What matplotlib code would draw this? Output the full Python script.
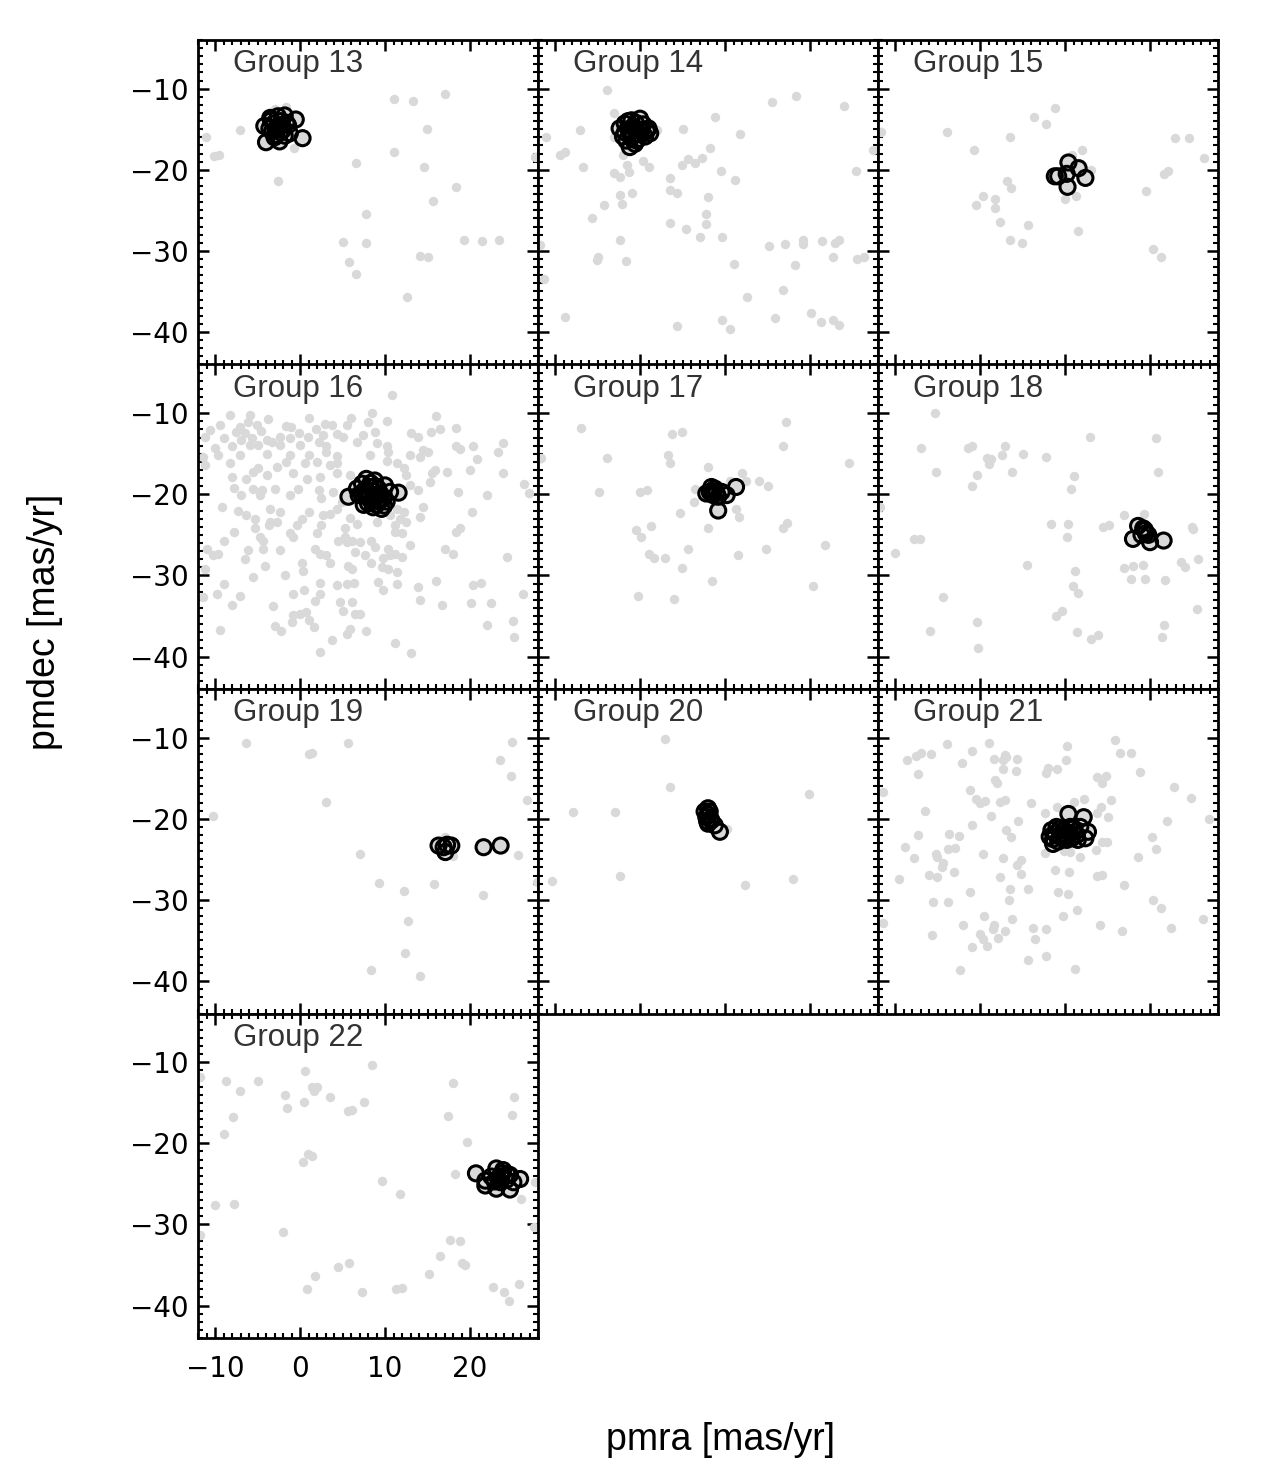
import numpy as np
import matplotlib.pyplot as plt
from matplotlib.ticker import MultipleLocator

# proper motions (pmra, pmdec) in mas/yr
group_names = ['Group 13', 'Group 14', 'Group 15', 'Group 16', 'Group 17',
               'Group 18', 'Group 19', 'Group 20', 'Group 21', 'Group 22']

g13_field = [(-11.1, -16.0), (-7.1, -15.1), (-10.1, -18.3), (-9.5, -18.2), (-3.0, -12.5),
             (-1.6, -12.3), (-0.7, -17.3), (-2.6, -21.4), (11.1, -11.3), (13.3, -11.5),
             (17.0, -10.6), (14.9, -15.0), (11.1, -17.8), (6.6, -19.2), (14.6, -19.6),
             (18.3, -22.1), (15.7, -23.8), (7.8, -25.4), (5.0, -28.9), (7.8, -29.0),
             (19.3, -28.6), (21.4, -28.8), (23.4, -28.6), (5.8, -31.4), (6.6, -32.9),
             (14.1, -30.6), (15.1, -30.7), (12.6, -35.7), (27.6, -18.4)]
g13_members = [(-4.2, -14.6), (-3.5, -13.6), (-2.6, -13.4), (-1.8, -13.3), (-0.5, -13.8),
               (0.3, -16.1), (-4.0, -16.6), (-2.4, -16.5), (-1.2, -15.5), (-2.9, -15.1),
               (-2.4, -14.5), (-3.1, -14.3), (-2.0, -15.1), (-2.8, -15.7), (-1.4, -14.5),
               (-3.3, -15.3), (-2.2, -14.0), (-2.7, -14.8), (-1.8, -15.8), (-3.0, -16.0),
               (-3.6, -14.9), (-1.6, -14.2), (-2.3, -15.4), (-3.4, -13.9)]

g14_field = [(-11.1, -16.0), (-11.8, -29.3), (-11.3, -33.4), (-3.9, -10.2), (-7.1, -15.1),
             (-3.1, -13.0), (0.0, -13.1), (-3.1, -16.0), (-9.4, -18.2), (-8.8, -17.8),
             (-6.7, -19.7), (-2.0, -18.2), (-1.5, -19.4), (-1.3, -20.3), (-3.1, -20.4),
             (-2.4, -20.9), (0.4, -18.9), (1.0, -19.6), (2.0, -15.1), (5.0, -15.0),
             (8.8, -13.5), (11.8, -15.6), (8.2, -17.3), (4.9, -19.4), (5.7, -18.7),
             (6.5, -19.2), (7.3, -18.6), (3.5, -21.0), (3.5, -22.5), (4.3, -22.9),
             (9.5, -20.2), (11.2, -21.2), (8.0, -23.3), (7.8, -25.4), (7.8, -26.7),
             (7.1, -28.3), (9.7, -28.3), (5.4, -27.3), (3.5, -26.6), (-2.4, -23.1),
             (-1.0, -22.9), (-2.1, -24.2), (-4.2, -24.3), (-5.7, -25.9), (-2.3, -28.7),
             (-5.0, -30.7), (-5.1, -31.1), (-1.6, -31.2), (-8.8, -38.2), (4.3, -39.3),
             (9.7, -38.5), (10.6, -39.6), (11.1, -31.6), (12.6, -35.7), (15.2, -29.4),
             (17.0, -29.2), (19.2, -28.6), (19.2, -29.1), (21.4, -28.8), (22.9, -29.0),
             (23.4, -28.6), (22.7, -30.8), (18.2, -31.7), (25.5, -31.0), (26.3, -30.8),
             (16.8, -34.8), (15.9, -38.3), (20.1, -37.7), (21.3, -38.7), (22.7, -38.5),
             (23.4, -39.1), (15.5, -11.7), (18.3, -10.9), (24.0, -12.1), (25.4, -20.2),
             (27.4, -17.6)]
g14_members = [(-1.8, -14.3), (0.0, -13.7), (1.0, -14.9), (-1.2, -17.2), (-2.4, -14.9),
               (-0.4, -16.4), (0.6, -15.9), (-1.2, -15.5), (-0.8, -14.7), (0.2, -15.1),
               (-1.6, -16.4), (-0.6, -16.8), (-2.0, -15.9), (1.2, -15.5), (-1.0, -13.9),
               (-0.5, -14.2), (-1.4, -15.0), (-0.2, -15.6), (0.4, -14.4), (-1.0, -16.0),
               (-1.8, -15.4), (0.8, -15.2), (-0.6, -15.0), (-0.2, -16.2), (-1.4, -14.0)]

g15_field = [(-11.6, -15.4), (-3.9, -15.4), (-0.7, -17.6), (3.5, -16.0), (6.3, -13.5),
             (7.8, -14.3), (8.8, -12.4), (12.0, -17.5), (10.8, -18.2), (13.1, -20.0),
             (3.2, -21.4), (3.7, -22.3), (0.3, -23.2), (-0.5, -24.4), (1.8, -23.6),
             (1.8, -24.7), (2.4, -26.4), (5.7, -26.8), (3.5, -28.6), (4.9, -29.0),
             (10.0, -23.6), (11.3, -23.2), (11.5, -27.5), (19.5, -22.6), (21.7, -20.5),
             (22.1, -20.1), (22.9, -16.1), (24.6, -16.1), (26.3, -18.6), (20.4, -29.8),
             (21.3, -30.8)]
g15_members = [(8.8, -20.8), (9.2, -20.8), (10.4, -19.1), (11.6, -19.8), (12.4, -21.0),
               (10.3, -22.1), (10.2, -20.5)]

g16_field = [(10.8, -7.7), (-8.2, -10.2), (-5.9, -10.2), (-3.8, -10.7), (1.0, -10.6),
             (6.0, -10.6), (8.5, -10.0), (10.2, -11.0), (16.0, -10.3), (18.3, -11.8),
             (-9.4, -11.5), (-10.6, -12.1), (-7.1, -11.7), (-6.1, -11.1), (-5.1, -11.5),
             (-7.5, -12.3), (-6.5, -12.4), (-4.6, -12.2), (-1.6, -11.6), (-1.1, -11.7),
             (-0.1, -12.4), (1.9, -11.9), (2.9, -11.3), (3.8, -11.5), (5.5, -11.4),
             (8.0, -11.1), (-11.2, -12.9), (-9.0, -13.1), (-6.9, -13.3), (-5.7, -13.1),
             (-3.9, -13.3), (-2.4, -12.9), (-1.2, -13.1), (0.9, -12.9), (2.7, -12.7),
             (4.3, -12.6), (5.1, -12.9), (7.4, -12.7), (8.8, -12.3), (13.0, -12.5),
             (13.9, -12.9), (15.4, -12.3), (16.5, -12.0), (-10.0, -14.3), (-8.0, -14.1),
             (-5.9, -13.9), (-4.9, -13.9), (-3.3, -13.6), (-2.4, -13.9), (0.0, -13.9),
             (2.2, -13.6), (3.1, -14.1), (6.7, -13.6), (9.0, -13.7), (10.2, -14.1),
             (14.5, -14.6), (15.1, -14.8), (18.4, -14.1), (18.8, -14.4), (20.4, -14.1),
             (23.9, -13.7), (23.3, -14.8), (-11.4, -15.4), (-9.6, -15.2), (-7.1, -15.2),
             (-3.9, -15.0), (-1.2, -15.2), (1.0, -15.1), (3.1, -14.8), (4.3, -15.3),
             (8.2, -15.2), (10.4, -14.8), (14.1, -15.4), (12.9, -15.2), (20.8, -15.6),
             (-11.2, -16.4), (-8.2, -16.2), (-5.5, -17.3), (-4.9, -16.8), (-2.7, -16.6),
             (-1.6, -16.0), (0.6, -16.2), (2.0, -16.0), (3.5, -16.4), (4.3, -16.2),
             (10.2, -15.9), (11.4, -16.2), (12.2, -16.8), (15.5, -17.4), (15.9, -17.0),
             (20.0, -17.0), (23.9, -17.4), (17.3, -17.2), (-8.0, -17.9), (-6.3, -18.1),
             (-3.9, -17.6), (-0.8, -17.4), (0.8, -18.1), (2.4, -17.9), (4.3, -17.4),
             (5.9, -17.6), (12.5, -17.6), (15.3, -18.5), (26.3, -18.7), (26.9, -19.9),
             (-7.8, -19.2), (-5.5, -19.3), (-4.5, -19.5), (-2.9, -19.3), (-0.2, -19.3),
             (2.2, -19.5), (3.9, -19.7), (12.9, -18.9), (13.9, -19.5), (18.6, -19.7),
             (22.0, -20.1), (-6.9, -20.1), (-4.7, -20.1), (-1.2, -20.1), (2.5, -20.5),
             (4.9, -20.9), (-9.2, -21.6), (-7.3, -22.0), (-3.5, -21.8), (-2.4, -22.2),
             (1.0, -22.2), (3.5, -22.4), (4.3, -21.8), (11.4, -21.8), (12.2, -22.2),
             (14.5, -21.6), (-6.3, -22.6), (-5.3, -23.0), (-3.5, -23.4), (-2.7, -23.4),
             (0.2, -23.0), (2.7, -22.6), (5.9, -22.9), (10.6, -22.6), (11.8, -23.0),
             (12.5, -23.4), (14.1, -22.8), (20.2, -22.2), (-5.3, -24.2), (-3.7, -23.8),
             (-0.4, -23.8), (2.5, -23.8), (5.3, -24.2), (6.7, -23.7), (9.0, -23.4),
             (11.2, -23.8), (18.8, -24.2), (-7.8, -24.6), (-4.7, -25.3), (-1.2, -24.8),
             (-0.8, -25.3), (2.0, -24.8), (5.3, -25.3), (5.5, -25.9), (7.1, -25.9),
             (11.2, -24.6), (12.0, -24.8), (18.4, -24.6), (-9.0, -25.7), (-4.3, -25.7),
             (4.5, -25.7), (6.1, -25.7), (8.4, -25.7), (8.8, -26.5), (10.4, -26.7),
             (12.9, -26.3), (17.1, -26.7), (-11.0, -26.7), (-6.1, -26.9), (-4.3, -26.7),
             (-2.4, -26.9), (1.8, -26.7), (2.4, -27.3), (3.1, -27.5), (6.5, -27.1),
             (7.6, -27.5), (10.6, -27.5), (11.2, -27.3), (12.0, -27.7), (18.0, -27.3),
             (24.3, -27.7), (-10.2, -27.5), (-9.6, -27.3), (-6.5, -28.0), (-4.1, -28.8),
             (0.2, -28.5), (0.4, -29.4), (3.5, -28.5), (5.7, -28.8), (6.1, -29.2),
             (8.4, -28.5), (9.8, -27.9), (9.6, -29.0), (10.4, -29.2), (11.4, -29.6),
             (-11.2, -29.2), (-5.5, -30.2), (-1.8, -30.0), (2.4, -30.9), (4.3, -31.2),
             (5.5, -31.0), (6.3, -30.9), (9.2, -30.8), (9.8, -31.8), (11.4, -31.1),
             (13.9, -31.4), (16.0, -30.7), (20.4, -31.2), (21.3, -30.9), (-9.0, -31.0),
             (-9.8, -32.3), (-11.4, -32.7), (-7.1, -32.5), (-0.8, -32.3), (0.5, -31.8),
             (2.4, -32.3), (4.7, -33.3), (6.1, -33.3), (14.1, -33.0), (16.7, -33.7),
             (20.1, -33.4), (22.5, -33.4), (26.2, -32.3), (-8.0, -33.6), (-3.2, -33.8),
             (1.8, -33.1), (5.1, -34.4), (6.5, -34.7), (7.1, -34.8), (-0.8, -34.9),
             (0.0, -34.7), (0.7, -34.5), (-1.0, -35.8), (1.0, -35.5), (-3.0, -36.2),
             (-2.2, -36.9), (1.6, -36.4), (5.5, -37.2), (5.9, -36.6), (7.8, -36.9),
             (22.0, -36.1), (25.1, -35.6), (-9.4, -36.7), (3.8, -37.9), (11.2, -38.3),
             (13.1, -39.6), (2.4, -39.4), (25.2, -37.6)]
g16_members = [(5.7, -20.3), (11.6, -19.8), (6.7, -19.3), (10.0, -18.9), (7.8, -18.1),
               (8.8, -18.3), (7.5, -21.3), (9.6, -21.8), (8.4, -20.9), (9.0, -20.1),
               (10.2, -20.9), (6.9, -20.1), (8.2, -19.1), (9.2, -19.3), (7.8, -20.1),
               (10.6, -19.7), (8.6, -21.6), (7.3, -18.7), (9.8, -20.5), (8.0, -21.1),
               (7.6, -19.5), (8.8, -20.5), (8.3, -18.6), (8.6, -19.6), (9.4, -20.8),
               (8.1, -20.5), (7.2, -19.9), (9.0, -21.3), (8.8, -19.0), (9.9, -21.4),
               (7.9, -19.6), (9.5, -20.0)]

g17_field = [(-11.6, -15.5), (-7.0, -11.8), (-3.9, -15.5), (3.8, -12.6), (4.9, -12.3),
             (3.3, -15.1), (3.5, -16.1), (8.0, -16.6), (17.2, -11.1), (16.8, -14.0),
             (24.6, -16.1), (-4.8, -19.7), (0.0, -19.7), (0.8, -19.5), (6.5, -19.3),
             (6.3, -21.0), (4.7, -22.3), (10.6, -18.3), (12.0, -17.4), (12.5, -18.3),
             (14.0, -18.4), (15.0, -19.0), (11.3, -21.8), (11.6, -22.8), (8.0, -24.1),
             (16.8, -24.1), (17.3, -23.5), (-0.5, -24.4), (0.1, -25.3), (1.3, -23.9),
             (5.7, -26.8), (1.1, -27.3), (1.6, -27.9), (2.9, -27.9), (4.9, -29.1),
             (11.5, -27.5), (14.8, -26.7), (21.8, -26.2), (8.5, -30.7), (20.4, -31.3),
             (-0.2, -32.5), (4.0, -32.9)]
g17_members = [(8.2, -19.7), (8.8, -19.3), (9.2, -20.3), (10.2, -20.1), (11.3, -19.1),
               (9.2, -22.0), (7.8, -19.9), (8.6, -20.1), (8.4, -19.1), (9.6, -19.7),
               (8.5, -19.6), (9.0, -19.8)]

g18_field = [(-11.8, -21.6), (-5.3, -10.0), (-6.9, -14.3), (-5.2, -17.2), (-1.4, -14.3),
             (-1.0, -14.1), (-0.3, -17.6), (-1.0, -19.0), (0.8, -15.5), (1.3, -15.6),
             (1.1, -16.3), (2.6, -15.1), (2.9, -14.1), (5.0, -15.0), (3.8, -17.2),
             (7.8, -15.4), (12.9, -12.9), (20.7, -13.0), (20.9, -17.2), (11.1, -17.8),
             (10.7, -19.4), (-7.8, -25.5), (-7.1, -25.5), (-10.0, -27.2), (5.5, -28.7),
             (8.3, -23.7), (10.3, -23.7), (10.2, -25.3), (14.5, -24.0), (15.2, -23.8),
             (16.9, -22.6), (19.3, -22.4), (24.9, -24.0), (25.0, -24.3), (11.2, -29.4),
             (10.9, -31.3), (11.5, -32.2), (16.9, -29.1), (18.0, -28.8), (19.2, -28.7),
             (17.8, -30.5), (19.4, -30.5), (21.8, -30.6), (23.6, -28.3), (24.1, -29.0),
             (25.6, -28.0), (-4.4, -32.6), (-0.3, -35.8), (-5.9, -36.9), (-0.2, -39.0),
             (8.9, -35.0), (9.6, -34.4), (11.4, -37.0), (13.0, -37.8), (13.9, -37.4),
             (21.6, -36.1), (21.4, -37.6), (25.5, -34.2)]
g18_members = [(18.6, -23.9), (18.0, -25.5), (19.4, -24.4), (20.0, -25.9), (21.6, -25.7),
               (19.0, -25.0), (19.8, -25.0), (19.2, -24.2), (19.5, -24.8)]

g19_field = [(-6.4, -10.7), (1.0, -12.0), (1.4, -11.9), (5.6, -10.7), (3.1, -17.9),
             (-10.2, -19.6), (7.0, -24.4), (9.3, -27.9), (12.2, -28.9), (15.8, -28.0),
             (12.7, -32.6), (12.3, -36.6), (8.4, -38.6), (14.1, -39.4), (21.5, -29.4),
             (25.7, -24.5), (24.9, -10.5), (23.5, -12.7), (24.8, -14.7), (26.7, -17.7),
             (18.0, -24.6), (17.1, -22.2), (27.9, -27.8)]
g19_members = [(16.3, -23.3), (16.9, -23.5), (17.1, -24.1), (17.8, -23.3), (17.3, -23.2),
               (21.6, -23.5), (23.6, -23.3)]

g20_field = [(2.9, -10.2), (3.5, -16.1), (-7.9, -19.2), (-2.9, -19.2), (19.9, -17.0),
             (-2.4, -27.1), (-10.3, -27.7), (12.4, -28.2), (18.0, -27.4), (10.2, -21.2)]
g20_members = [(8.0, -18.7), (8.2, -19.1), (7.8, -19.8), (8.4, -20.2), (8.0, -20.6),
               (8.8, -20.8), (9.4, -21.6), (7.6, -19.1), (8.1, -19.5), (8.3, -20.0),
               (7.9, -20.3)]

g21_field = [(-11.4, -16.7), (-11.4, -32.9), (-8.6, -12.8), (-7.5, -12.3), (-7.0, -11.9),
             (-5.8, -12.0), (-3.9, -10.8), (-7.3, -14.5), (-2.1, -13.1), (-1.0, -11.7),
             (1.0, -10.7), (1.6, -12.6), (2.7, -12.8), (2.9, -12.1), (3.1, -12.4),
             (4.3, -12.6), (2.7, -13.9), (4.2, -14.1), (1.8, -15.2), (2.0, -15.6),
             (-1.2, -16.4), (-0.5, -17.6), (0.0, -18.0), (0.6, -17.8), (2.3, -17.9),
             (2.9, -17.7), (6.0, -18.0), (8.0, -13.7), (7.8, -14.4), (9.1, -13.8),
             (10.1, -12.7), (10.2, -11.0), (15.9, -10.3), (16.5, -11.9), (17.8, -11.9),
             (13.8, -14.9), (14.8, -14.7), (14.3, -15.6), (18.8, -14.2), (22.8, -16.1),
             (24.8, -17.4), (-6.5, -19.1), (-1.0, -20.8), (1.3, -19.6), (4.5, -20.3),
             (3.0, -21.4), (3.7, -22.3), (7.6, -19.3), (9.0, -18.5), (11.1, -17.9),
             (12.2, -17.6), (15.4, -17.7), (14.2, -18.6), (13.8, -19.3), (15.0, -19.8),
             (22.0, -20.3), (26.9, -20.0), (-7.3, -22.0), (-3.6, -21.9), (-2.5, -22.1),
             (-8.8, -23.5), (-7.8, -24.8), (-5.2, -24.3), (-3.8, -23.7), (-2.9, -23.6),
             (-5.1, -24.7), (-4.3, -25.5), (-4.5, -26.0), (-3.1, -26.6), (-6.0, -26.9),
             (-5.1, -27.2), (-9.5, -27.4), (0.3, -24.4), (2.7, -24.8), (4.3, -25.7),
             (4.8, -25.1), (4.8, -26.8), (2.4, -27.2), (7.6, -24.2), (8.8, -26.3),
             (10.5, -26.6), (9.9, -24.0), (10.6, -24.1), (11.8, -24.7), (14.3, -22.8),
             (14.9, -22.9), (13.7, -23.8), (20.2, -22.2), (20.7, -23.7), (18.6, -24.7),
             (13.8, -27.0), (14.4, -26.9), (16.9, -28.2), (-1.2, -29.0), (3.5, -28.6),
             (5.7, -28.7), (3.4, -30.0), (9.2, -29.0), (10.3, -29.3), (11.4, -31.2),
             (9.8, -32.0), (-5.5, -30.3), (-3.8, -30.3), (0.5, -32.0), (3.8, -32.4),
             (20.3, -30.0), (21.3, -31.0), (26.2, -32.4), (22.5, -33.4), (16.7, -33.8),
             (14.1, -33.1), (-2.0, -33.1), (1.6, -33.1), (1.5, -33.6), (2.9, -33.8),
             (6.2, -33.4), (7.8, -33.6), (6.5, -34.8), (-5.6, -34.3), (0.0, -34.2),
             (0.4, -34.8), (2.1, -34.7), (-0.9, -35.8), (0.8, -35.7), (-2.3, -38.6),
             (5.7, -37.4), (7.8, -36.9), (11.2, -38.5)]
g21_members = [(10.4, -19.4), (12.2, -19.8), (8.4, -21.4), (8.6, -23.1), (12.4, -22.4),
               (11.8, -21.0), (9.4, -22.2), (10.6, -21.8), (11.4, -22.0), (9.0, -21.0),
               (9.8, -21.4), (11.0, -21.2), (8.2, -22.2), (10.2, -22.6), (11.5, -22.6),
               (12.7, -21.6), (9.2, -22.8), (10.6, -21.0), (9.6, -21.8), (10.0, -22.2),
               (8.8, -21.8), (11.2, -21.6), (9.4, -21.2), (10.8, -22.4), (8.6, -22.5)]

g22_field = [(-11.8, -11.8), (-11.8, -31.3), (27.6, -24.8), (27.5, -30.3), (-8.7, -12.3),
             (-7.1, -13.5), (-7.9, -16.7), (-9.0, -18.8), (-5.0, -12.3), (-10.0, -27.6),
             (-7.8, -27.5), (-1.8, -14.0), (-1.5, -15.7), (0.6, -11.1), (0.5, -14.9),
             (1.4, -13.0), (2.0, -13.0), (1.6, -13.6), (3.5, -14.3), (5.6, -16.0),
             (6.1, -15.9), (7.5, -14.9), (8.5, -10.4), (0.3, -22.3), (0.9, -21.3),
             (1.4, -21.6), (9.7, -24.6), (11.8, -26.3), (-2.0, -30.9), (4.5, -35.3),
             (5.8, -34.8), (1.8, -36.3), (0.8, -38.0), (7.3, -38.3), (11.3, -37.9),
             (12.0, -37.8), (15.2, -36.1), (16.5, -33.9), (17.7, -31.9), (18.8, -32.0),
             (19.0, -34.7), (19.4, -35.0), (18.0, -12.6), (17.4, -16.6), (19.6, -19.9),
             (18.2, -23.8), (25.2, -14.3), (24.9, -16.5), (26.0, -26.9), (22.7, -37.7),
             (24.0, -38.3), (24.6, -39.4), (25.8, -37.4)]
g22_members = [(20.7, -23.7), (21.8, -24.6), (21.8, -25.2), (23.1, -23.1), (23.1, -25.6),
               (23.9, -23.3), (24.7, -23.9), (24.7, -25.7), (25.9, -24.4), (22.5, -24.1),
               (23.7, -24.1), (25.1, -24.8), (24.3, -24.5), (23.3, -24.3), (23.8, -23.7),
               (24.4, -23.8), (22.9, -24.7), (23.6, -24.8)]

fields = [g13_field, g14_field, g15_field, g16_field, g17_field,
          g18_field, g19_field, g20_field, g21_field, g22_field]
members = [g13_members, g14_members, g15_members, g16_members, g17_members,
           g18_members, g19_members, g20_members, g21_members, g22_members]

W, H = 1268, 1474
fig = plt.figure(figsize=(W / 100, H / 100), dpi=100)

pw, ph = 340, 324.5
for i, name in enumerate(group_names):
    row, col = divmod(i, 3)
    left = 198 + pw * col
    top = 40 + ph * row
    ax = fig.add_axes([left / W, 1 - (top + ph) / H, pw / W, ph / H])

    f = np.array(fields[i])
    m = np.array(members[i])
    ax.scatter(f[:, 0], f[:, 1], s=46, color='#d9d9d9', linewidths=0, zorder=2)
    # member fills first, then all outlines on top (dense clusters go black)
    ax.scatter(m[:, 0], m[:, 1], s=118, color='#d9d9d9', linewidths=0, zorder=3)
    ax.scatter(m[:, 0], m[:, 1], s=118, facecolor='none', edgecolor='black',
               linewidths=2.2, zorder=4)

    ax.set_xlim(-12, 28)
    ax.set_ylim(-44, -4)
    ax.set_xticks([-10, 0, 10, 20])
    ax.set_yticks([-10, -20, -30, -40])
    ax.xaxis.set_minor_locator(MultipleLocator(1))
    ax.yaxis.set_minor_locator(MultipleLocator(1))
    ax.tick_params(which='both', direction='in', top=True, right=True)
    ax.tick_params(which='major', length=8, width=1.8)
    ax.tick_params(which='minor', length=3.5, width=1.5)
    ax.tick_params(axis='y', pad=7, labelsize=20)
    ax.tick_params(axis='x', pad=12, labelsize=20)
    ax.tick_params(labelleft=(col == 0), labelbottom=(i == 9))
    for sp in ax.spines.values():
        sp.set_linewidth(2.0)

    ax.text(0.103, 0.9, name, transform=ax.transAxes, fontsize=22.5,
            family='Liberation Sans', color='#333333', va='baseline', ha='left')

fig.text(721 / W, 1 - 1440 / H, 'pmra [mas/yr]', fontsize=27,
         family='Liberation Sans', ha='center', va='center')
fig.text(45 / W, 1 - 622 / H, 'pmdec [mas/yr]', fontsize=27,
         family='Liberation Sans', ha='center', va='center', rotation=90)

fig.savefig('out.png', dpi=100)
